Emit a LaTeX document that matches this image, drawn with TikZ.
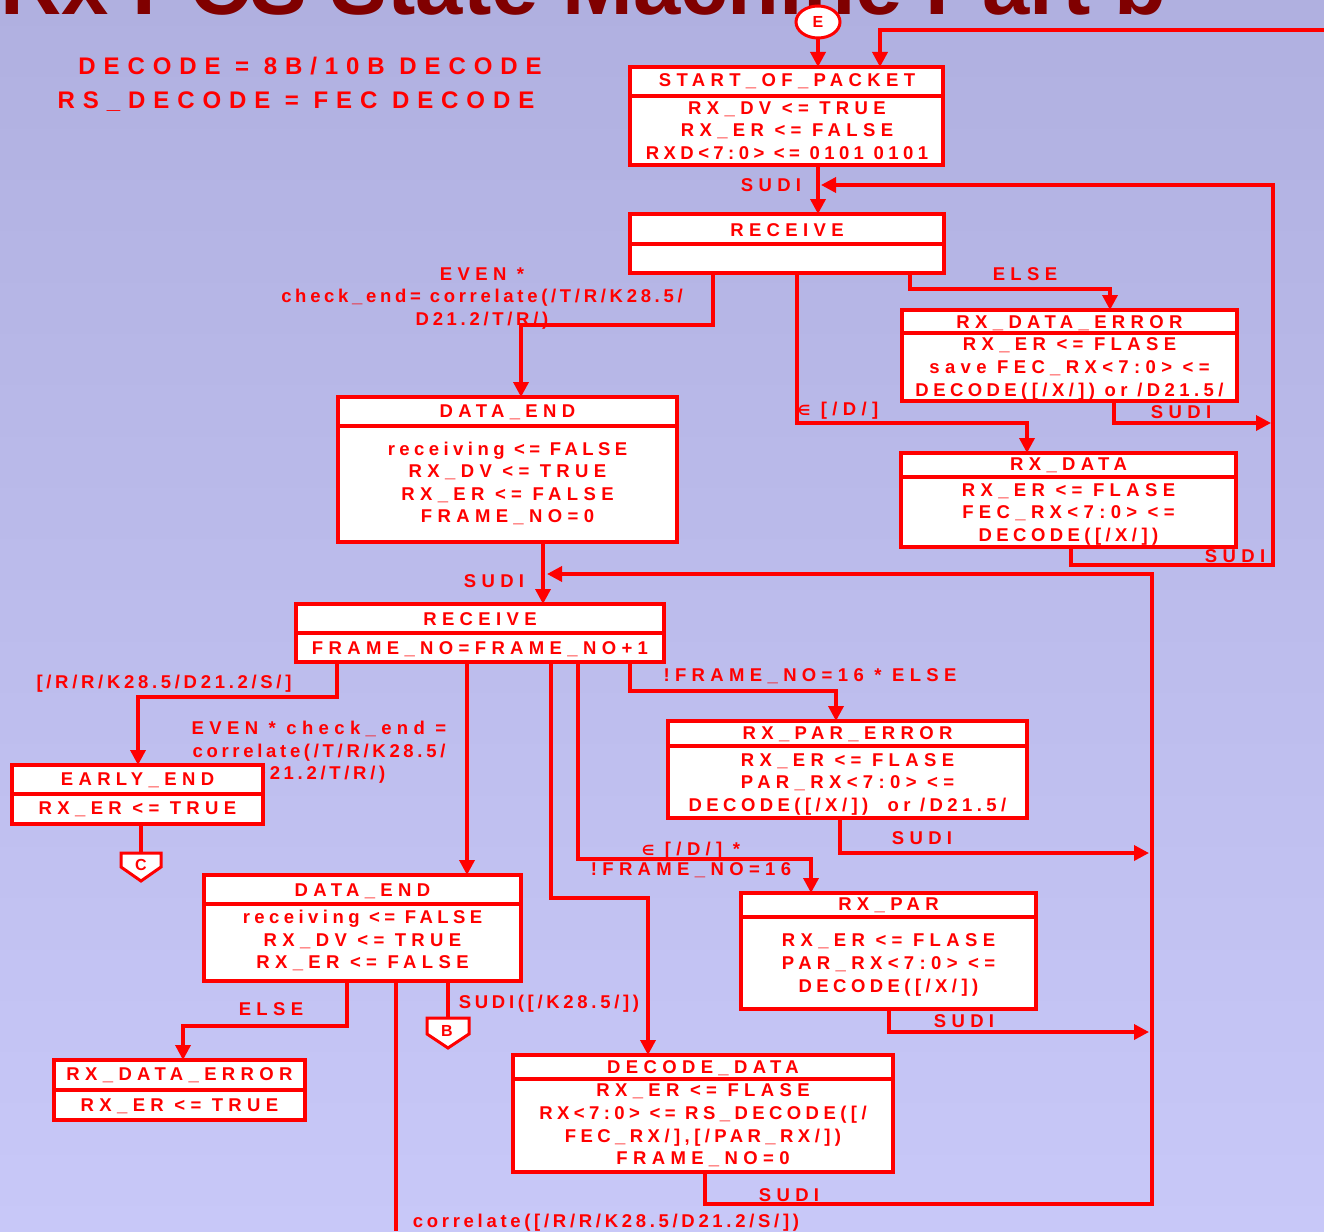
\documentclass[tikz,border=0pt]{standalone}
\usepackage{fontspec}
\usetikzlibrary{arrows.meta,shapes.geometric}

\newfontfamily\boxfam{Liberation Sans}[LetterSpace=29]
\newfontfamily\midfam{Liberation Sans}[LetterSpace=24]
\newfontfamily\slfam{Liberation Sans}[LetterSpace=20]
\newfontfamily\legfam{Liberation Sans}[LetterSpace=33]
\newfontfamily\plainfam{Liberation Sans}
\newfontfamily\symfam{DejaVu Sans}

\definecolor{bgtop}{RGB}{176,176,224}
\definecolor{bgbot}{RGB}{200,200,248}
\definecolor{ttlred}{RGB}{128,0,0}

% text faces: wide tracking, medium tracking, narrow tracking, legend
\newcommand\bxf{\boxfam\bfseries\fontsize{18.5}{22.6}\selectfont}
\newcommand\mdf{\midfam\bfseries\fontsize{18.5}{22.6}\selectfont}
\newcommand\slf{\slfam\bfseries\fontsize{18.5}{22.6}\selectfont}
\newcommand\lgf{\legfam\bfseries\fontsize{24}{34}\selectfont}
\newcommand\elemsym{{\symfam\fontsize{14}{14}\selectfont ∈}}

\tikzset{
  wire/.style={draw=red, line width=3.5pt},
  arr/.style={wire, -{Triangle[length=15pt,width=15pt]}},
  sbox/.style={rectangle, draw=red, line width=3.5pt, fill=white, inner sep=0pt, outer sep=0pt},
  divline/.style={draw=red, line width=3.2pt},
  hdr/.style={text=red, font=\bxf, inner sep=0pt, text height=13.2pt, text depth=0pt},
  body/.style={text=red, font=\bxf, align=center, inner sep=0pt},
  lbl/.style={text=red, font=\bxf, inner sep=0pt, text height=13.2pt, text depth=0pt},
  legend/.style={text=red, font=\lgf, inner sep=0pt, text height=17.2pt, text depth=0pt},
  offpage/.style={draw=red, line width=3pt, fill=white, line join=miter},
  offtxt/.style={text=red, font=\plainfam\bfseries\fontsize{16}{16}\selectfont, inner sep=0pt, text height=11.5pt, text depth=0pt},
}

\begin{document}
\begin{tikzpicture}[x=1pt,y=-1pt]
\useasboundingbox (0,0) rectangle (1324,1231);
\clip (0,0) rectangle (1324,1231);
\shade[top color=bgtop, bottom color=bgbot] (0,0) rectangle (1324,1231);

% title, mostly above the page edge
\node[anchor=base west, inner sep=0pt, text=ttlred,
      font=\plainfam\bfseries\fontsize{85}{90}\selectfont] (title) at (0,15) {Rx PCS State Machine Part b};

% legend
\node[legend] (leg1) at (310,66) {DECODE = 8B/10B DECODE};
\node[legend] (leg2) at (296,100) {RS\_DECODE = FEC DECODE};

% transition labels
\node[lbl] (lsudiA) at (771,185) {SUDI};
\node[lbl] (lelseA) at (1025,274) {ELSE};
\node[body] (levenA) at (482,298.4) {EVEN *\\{\slf check\_end= correlate(/T/R/K28.5/}\\{\slf D21.2/T/R/)}};
\node[lbl] (ldA) at (838,409) {\elemsym\ [/D/]};
\node[lbl] (lsudiB) at (1181,412) {SUDI};
\node[lbl] (lsudiC) at (1235,556) {SUDI};
\node[lbl] (lsudiD) at (494,581) {SUDI};
\node[lbl, font=\slf] (lrrk) at (164,682) {[/R/R/K28.5/D21.2/S/]};
\node[body] (levenB) at (319,752.4) {EVEN * check\_end =\\{\slf correlate(/T/R/K28.5/}\\{\slf D21.2/T/R/)}};
\node[lbl] (lfrelse) at (810,675) {!FRAME\_NO=16 * ELSE};
\node[lbl] (lsudiE) at (922,838) {SUDI};
\node[body] (ldB) at (691,859.5) {\elemsym\ [/D/] *\\[-2.5pt]!FRAME\_NO=16};
\node[lbl] (lsudiF) at (964,1021) {SUDI};
\node[lbl] (lelseB) at (271,1009) {ELSE};
\node[lbl, font=\slf] (lsudiK) at (549,1002) {SUDI([/K28.5/])};
\node[lbl, font=\slf] (lcorr) at (606,1221) {correlate([/R/R/K28.5/D21.2/S/])};
\node[lbl] (lsudiG) at (789,1195) {SUDI};

% state boxes
\node[sbox, minimum width=313pt, minimum height=98pt]  (sop)   at (786.5,116)   {};
\node[sbox, minimum width=314pt, minimum height=59pt]  (rcvA)  at (787,243.5)   {};
\node[sbox, minimum width=339pt, minimum height=145pt] (deA)   at (507.5,469.5) {};
\node[sbox, minimum width=335pt, minimum height=91pt]  (rxdeA) at (1069.5,355.5){};
\node[sbox, minimum width=335pt, minimum height=94pt]  (rxd)   at (1068.5,500)  {};
\node[sbox, minimum width=368pt, minimum height=58pt]  (rcvB)  at (480,633)     {};
\node[sbox, minimum width=251pt, minimum height=59pt]  (ee)    at (137.5,794.5) {};
\node[sbox, minimum width=317pt, minimum height=106pt] (deB)   at (362.5,928)   {};
\node[sbox, minimum width=251pt, minimum height=60pt]  (rxdeB) at (179.5,1090)  {};
\node[sbox, minimum width=359pt, minimum height=97pt]  (rxpe)  at (847.5,769.5) {};
\node[sbox, minimum width=295pt, minimum height=116pt] (rxp)   at (888.5,951)   {};
\node[sbox, minimum width=380pt, minimum height=117pt] (dd)    at (703,1113.5)  {};

% header dividers
\draw[divline] (sop.west |- 0,96)     -- (sop.east |- 0,96);
\draw[divline] (rcvA.west |- 0,244)   -- (rcvA.east |- 0,244);
\draw[divline] (deA.west |- 0,426)    -- (deA.east |- 0,426);
\draw[divline] (rxdeA.west |- 0,333)  -- (rxdeA.east |- 0,333);
\draw[divline] (rxd.west |- 0,477)    -- (rxd.east |- 0,477);
\draw[divline] (rcvB.west |- 0,633)   -- (rcvB.east |- 0,633);
\draw[divline] (ee.west |- 0,794)     -- (ee.east |- 0,794);
\draw[divline] (deB.west |- 0,904)    -- (deB.east |- 0,904);
\draw[divline] (rxdeB.west |- 0,1090) -- (rxdeB.east |- 0,1090);
\draw[divline] (rxpe.west |- 0,746)   -- (rxpe.east |- 0,746);
\draw[divline] (rxp.west |- 0,917)    -- (rxp.east |- 0,917);
\draw[divline] (dd.west |- 0,1079)    -- (dd.east |- 0,1079);

% state names
\node[hdr] (sopH)   at (787,80)    {START\_OF\_PACKET};
\node[hdr] (rcvAH)  at (787,230)   {RECEIVE};
\node[hdr] (deAH)   at (507.5,411) {DATA\_END};
\node[hdr] (rxdeAH) at (1069.5,322){RX\_DATA\_ERROR};
\node[hdr] (rxdH)   at (1068.5,464){RX\_DATA};
\node[hdr] (rcvBH)  at (480,619)   {RECEIVE};
\node[hdr] (eeH)    at (137.5,779) {EARLY\_END};
\node[hdr] (deBH)   at (362.5,890) {DATA\_END};
\node[hdr] (rxdeBH) at (179.5,1074){RX\_DATA\_ERROR};
\node[hdr] (rxpeH)  at (847.5,733) {RX\_PAR\_ERROR};
\node[hdr] (rxpH)   at (888.5,904) {RX\_PAR};
\node[hdr] (ddH)    at (703,1067)  {DECODE\_DATA};

% state actions
\node[body] (sopB)   at (787,130.5)   {RX\_DV <= TRUE\\RX\_ER <= FALSE\\{\mdf RXD<7:0> <= 0101 0101}};
\node[body] (deAB)   at (507.5,483.5) {{\mdf receiving <= FALSE}\\RX\_DV <= TRUE\\RX\_ER <= FALSE\\FRAME\_NO=0};
\node[body] (rxdeAB) at (1069.5,369)  {RX\_ER <= FLASE\\save FEC\_RX<7:0> <=\\{\mdf DECODE([/X/]) or /D21.5/}};
\node[body] (rxdB)   at (1068.5,514.4){RX\_ER <= FLASE\\FEC\_RX<7:0> <=\\{\mdf DECODE([/X/])}};
\node[lbl]  (rcvBB)  at (480,648)     {FRAME\_NO=FRAME\_NO+1};
\node[lbl]  (eeB)    at (137.5,808)   {RX\_ER <= TRUE};
\node[body] (deBB)   at (362.5,940.5) {{\mdf receiving <= FALSE}\\RX\_DV <= TRUE\\RX\_ER <= FALSE};
\node[lbl]  (rxdeBB) at (179.5,1105)  {RX\_ER <= TRUE};
\node[body] (rxpeB)  at (847.5,784.4) {RX\_ER <= FLASE\\PAR\_RX<7:0> <=\\{\mdf DECODE([/X/])\ \ or /D21.5/}};
\node[body] (rxpB)   at (888.5,965)   {RX\_ER <= FLASE\\PAR\_RX<7:0> <=\\{\mdf DECODE([/X/])}};
\node[body] (ddB)    at (703,1125.5)  {RX\_ER <= FLASE\\{\mdf RX<7:0> <= RS\_DECODE([/}\\{\mdf FEC\_RX/],[/PAR\_RX/])}\\FRAME\_NO=0};

% entry and off-page connectors
\node[ellipse, draw=red, line width=3pt, fill=white, inner sep=0pt,
      minimum width=44pt, minimum height=32pt, text=red,
      font=\plainfam\bfseries\fontsize{16}{16}\selectfont] (econn) at (818,22) {E};
\draw[offpage] (121,853) -- (161,853) -- (161,867) -- (141,881) -- (121,867) -- cycle;
\node[offtxt] (offC) at (141,865) {C};
\coordinate (offCtop) at (141,853);
\draw[offpage] (427,1018) -- (469,1018) -- (469,1034) -- (448,1048) -- (427,1034) -- cycle;
\node[offtxt] (offB) at (447,1031) {B};
\coordinate (offBtop) at (448,1018);

% free ends and junctions
\coordinate (topR) at (1324,30);
\coordinate (joinA) at (821,185);
\coordinate (joinB) at (1271,423);
\coordinate (joinC) at (547,574);
\coordinate (joinD) at (1149,853);
\coordinate (joinE) at (1149,1032);
\coordinate (offBottom) at (396,1231);

% transitions
\draw[arr] (econn.south) -- (econn.south |- sop.north);
\draw[arr] (topR) -| (sop.north -| 880,0);
\draw[arr] (sop.south -| econn.south) -- (rcvA.north -| econn.south);
\draw[arr] (rcvA.south -| 713,0) |- (521,325) -- (deA.north -| 521,0);
\draw[arr] (rcvA.south -| 797,0) |- (1027,423) -- (rxd.north -| 1027,0);
\draw[arr] (rcvA.south -| 910,0) |- (1110,289) -- (rxdeA.north -| 1110,0);
\draw[arr] (rxdeA.south -| 1114,0) |- (joinB);
\draw[arr] (rxd.south -| 1071,0) |- (1273,565) |- (joinA);
\draw[arr] (deA.south -| 543,0) -- (rcvB.north -| 543,0);
\draw[arr] (rcvB.south -| 337,0) |- (138,697) -- (ee.north -| 138,0);
\draw[arr] (rcvB.south -| 467,0) -- (deB.north -| 467,0);
\draw[arr] (rcvB.south -| 551,0) |- (648,898) -- (dd.north -| 648,0);
\draw[arr] (rcvB.south -| 578,0) |- (811,859) -- (rxp.north -| 811,0);
\draw[arr] (rcvB.south -| 630,0) |- (836,691) -- (rxpe.north -| 836,0);
\draw[arr] (rxpe.south -| 840,0) |- (joinD);
\draw[arr] (rxp.south -| 889,0) |- (joinE);
\draw[arr] (dd.south -| 705,0) |- (1152,1204) |- (joinC);
\draw[wire] (ee.south -| offCtop) -- (offCtop);
\draw[arr] (deB.south -| 347,0) |- (183,1026) -- (rxdeB.north -| 183,0);
\draw[wire] (deB.south -| offBottom) -- (offBottom);
\draw[wire] (deB.south -| offBtop) -- (offBtop);
\end{tikzpicture}
\end{document}
